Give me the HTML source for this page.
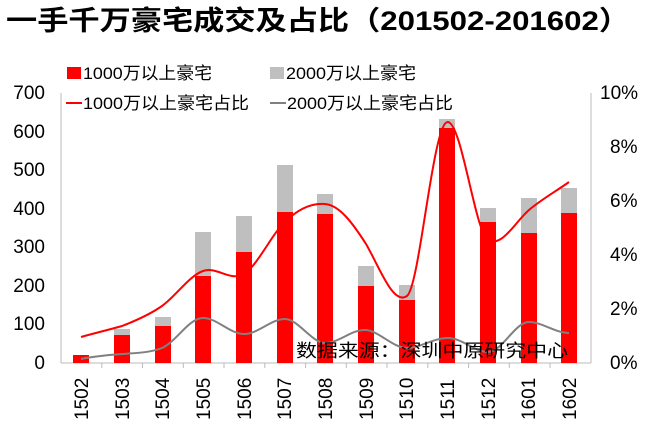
<!DOCTYPE html>
<html><head><meta charset="utf-8"><style>
body{margin:0;background:#fff;}
svg{display:block;font-family:"Liberation Sans","Noto Sans CJK SC",sans-serif;}
</style></head><body>
<svg width="655" height="431" viewBox="0 0 655 431" xmlns="http://www.w3.org/2000/svg">
<text x="6" y="30" font-size="27" font-weight="bold" fill="#000" textLength="624" lengthAdjust="spacingAndGlyphs">一手千万豪宅成交及占比（201502-201602）</text>
<!-- legend -->
<rect x="67" y="67" width="14" height="12" fill="#f00"/>
<text x="83" y="79" font-size="17" textLength="129" lengthAdjust="spacingAndGlyphs">1000万以上豪宅</text>
<rect x="270" y="67" width="14" height="12" fill="#bfbfbf"/>
<text x="286" y="79" font-size="17" textLength="130" lengthAdjust="spacingAndGlyphs">2000万以上豪宅</text>
<line x1="66" y1="103" x2="82" y2="103" stroke="#f00" stroke-width="2"/>
<text x="83" y="109" font-size="17" textLength="166" lengthAdjust="spacingAndGlyphs">1000万以上豪宅占比</text>
<line x1="270" y1="103" x2="286" y2="103" stroke="#808080" stroke-width="2"/>
<text x="287" y="109" font-size="17" textLength="166" lengthAdjust="spacingAndGlyphs">2000万以上豪宅占比</text>
<!-- axes -->
<line x1="61" y1="93" x2="61" y2="363" stroke="#bbb"/>
<line x1="61" y1="363" x2="591" y2="363" stroke="#bbb"/>
<line x1="591" y1="93" x2="591" y2="363" stroke="#bbb"/>
<g font-size="19" text-anchor="end" fill="#000">
<text x="45" y="99">700</text><text x="45" y="138">600</text><text x="45" y="176">500</text><text x="45" y="215">400</text><text x="45" y="253">300</text><text x="45" y="292">200</text><text x="45" y="330">100</text><text x="45" y="369">0</text>
</g>
<g font-size="19" text-anchor="start" fill="#000">
<text x="600" y="99">10%</text><text x="610" y="153">8%</text><text x="610" y="207">6%</text><text x="610" y="261">4%</text><text x="610" y="315">2%</text><text x="610" y="369">0%</text>
</g>
<g stroke="#bbb">
<line x1="101.8" y1="363" x2="101.8" y2="368"/><line x1="142.5" y1="363" x2="142.5" y2="368"/><line x1="183.3" y1="363" x2="183.3" y2="368"/><line x1="224" y1="363" x2="224" y2="368"/><line x1="264.8" y1="363" x2="264.8" y2="368"/><line x1="305.6" y1="363" x2="305.6" y2="368"/><line x1="346.3" y1="363" x2="346.3" y2="368"/><line x1="387" y1="363" x2="387" y2="368"/><line x1="427.8" y1="363" x2="427.8" y2="368"/><line x1="468.6" y1="363" x2="468.6" y2="368"/><line x1="509.3" y1="363" x2="509.3" y2="368"/><line x1="550" y1="363" x2="550" y2="368"/>
</g>
<g fill="#bfbfbf">
<rect x="73" y="355" width="16" height="8"/>
<rect x="114" y="329" width="16" height="34"/>
<rect x="155" y="317" width="16" height="46"/>
<rect x="195" y="232" width="16" height="131"/>
<rect x="236" y="216" width="16" height="147"/>
<rect x="277" y="165" width="16" height="198"/>
<rect x="317" y="194" width="16" height="169"/>
<rect x="358" y="266" width="16" height="97"/>
<rect x="399" y="285" width="16" height="78"/>
<rect x="439" y="119" width="16" height="244"/>
<rect x="480" y="208" width="16" height="155"/>
<rect x="521" y="198" width="16" height="165"/>
<rect x="561" y="188" width="16" height="175"/>
</g>
<g fill="#f00">
<rect x="73" y="355" width="16" height="8"/>
<rect x="114" y="335" width="16" height="28"/>
<rect x="155" y="326" width="16" height="37"/>
<rect x="195" y="276" width="16" height="87"/>
<rect x="236" y="252" width="16" height="111"/>
<rect x="277" y="212" width="16" height="151"/>
<rect x="317" y="214" width="16" height="149"/>
<rect x="358" y="286" width="16" height="77"/>
<rect x="399" y="300" width="16" height="63"/>
<rect x="439" y="128" width="16" height="235"/>
<rect x="480" y="222" width="16" height="141"/>
<rect x="521" y="233" width="16" height="130"/>
<rect x="561" y="213" width="16" height="150"/>
</g>
<path d="M81,337 C95,333 108,330 122,326 C135,321 149,315 162,306 C176,296 189,276 203,271 C217,266 230,282 244,274 C258,265 271,235 285,222 C298,209 312,203 325,204 C339,205 352,222 366,244 C379,266 393,306 407,296 C420,286 433,120 448,122 C462,124 475,232 488,240 C502,248 515,222 529,210 C542,199 555,192 569,182" fill="none" stroke="#f00" stroke-width="2"/>
<path d="M81,359 C95,356 108,355 122,354 C135,353 149,353 162,348 C176,342 189,318 203,318 C217,318 230,334 244,334 C258,334 271,319 285,319 C298,319 312,343 325,343 C339,343 352,329 366,330 C379,331 393,348 407,348 C420,348 433,338 448,338 C462,338 475,352 488,352 C502,352 515,322 529,322 C542,322 555,333 569,333" fill="none" stroke="#808080" stroke-width="2"/>
<text x="296" y="357" font-size="18" fill="#000" textLength="272" lengthAdjust="spacingAndGlyphs">数据来源：深圳中原研究中心</text>
<g font-size="19" fill="#000">
<text transform="translate(88,420) rotate(-90)">1502</text>
<text transform="translate(129,420) rotate(-90)">1503</text>
<text transform="translate(169,420) rotate(-90)">1504</text>
<text transform="translate(210,420) rotate(-90)">1505</text>
<text transform="translate(251,420) rotate(-90)">1506</text>
<text transform="translate(291,420) rotate(-90)">1507</text>
<text transform="translate(332,420) rotate(-90)">1508</text>
<text transform="translate(373,420) rotate(-90)">1509</text>
<text transform="translate(413,420) rotate(-90)">1510</text>
<text transform="translate(454,420) rotate(-90)">1511</text>
<text transform="translate(495,420) rotate(-90)">1512</text>
<text transform="translate(535,420) rotate(-90)">1601</text>
<text transform="translate(576,420) rotate(-90)">1602</text>
</g>
</svg>
</body></html>
